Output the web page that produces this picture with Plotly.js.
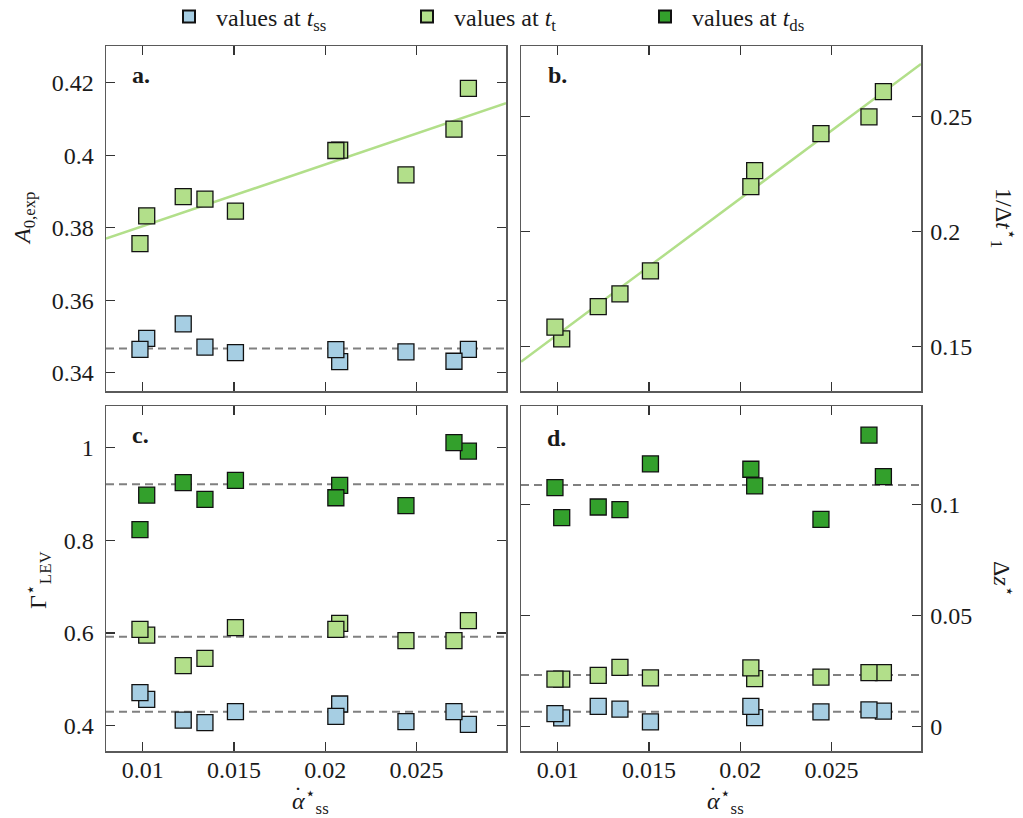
<!DOCTYPE html>
<html>
<head>
<meta charset="utf-8">
<script src="https://cdn.plot.ly/plotly-3.0.1.min.js"></script>
<style>html,body{margin:0;padding:0;background:#ffffff;}</style>
</head>
<body>
<div id="chart" style="width:1023px;height:818px;"></div>
<script>
// Pitch rate of each run (listed from highest to lowest)
const alphaDot = [0.02784, 0.02705, 0.02442, 0.02079, 0.02058, 0.01508, 0.01341, 0.01222, 0.01022, 0.00985];

// a. A_0,exp
const aSS = [0.3465, 0.3432, 0.3458, 0.3431, 0.3464, 0.3456, 0.3471, 0.3535, 0.3495, 0.3465];
const aT  = [0.4184, 0.4072, 0.3946, 0.4014, 0.4013, 0.3846, 0.3879, 0.3886, 0.3833, 0.3756];

// b. 1 / Δt*_1
const invDtT = [0.2609, 0.2499, 0.2426, 0.2265, 0.2195, 0.1828, 0.1728, 0.1673, 0.1532, 0.1583];

// c. Γ*_LEV
const gSS = [0.4029, 0.4302, 0.4086, 0.4468, 0.4201, 0.4302, 0.4065, 0.4122, 0.4568, 0.4712];
const gT  = [0.6266, 0.5835, 0.5835, 0.6209, 0.6079, 0.6115, 0.5453, 0.5295, 0.5957, 0.6079];
const gDS = [0.9928, 1.0108, 0.8748, 0.9187, 0.8920, 0.9295, 0.8885, 0.9245, 0.8978, 0.8230];

// d. Δz*
const zSS = [0.0069, 0.0074, 0.0065, 0.0039, 0.0090, 0.0020, 0.0078, 0.0090, 0.0038, 0.0057];
const zT  = [0.0242, 0.0242, 0.0222, 0.0215, 0.0263, 0.0218, 0.0266, 0.0230, 0.0213, 0.0213];
const zDS = [0.1125, 0.1312, 0.0932, 0.1083, 0.1158, 0.1182, 0.0976, 0.0988, 0.0940, 0.1075];

// Reference levels (dashed lines)
const levelA = [0.3467];
const levelC = [0.4302, 0.5921, 0.9209];
const levelD = [0.0066, 0.0231, 0.1087];

// Ticks
const xTickVals = [0.01, 0.015, 0.02, 0.025];
const xTickText = ['0.01', '0.015', '0.02', '0.025'];
const yTickValsA = [0.34, 0.36, 0.38, 0.4, 0.42];
const yTickTextA = ['0.34', '0.36', '0.38', '0.4', '0.42'];
const yTickValsB = [0.15, 0.2, 0.25];
const yTickTextB = ['0.15', '0.2', '0.25'];
const yTickValsC = [0.4, 0.6, 0.8, 1];
const yTickTextC = ['0.4', '0.6', '0.8', '1'];
const yTickValsD = [0, 0.05, 0.1];
const yTickTextD = ['0', '0.05', '0.1'];

const xRange = [0.00799, 0.0299];

const W = 1023, H = 818;
const px = v => v / W;
const py = v => 1 - v / H;

const C_SS = '#a6cee3', C_T = '#b2df8a', C_DS = '#33a02c';
const FONT = "'Liberation Serif', 'DejaVu Serif', serif";

function linFit(x, y) {
  const n = x.length;
  const mx = x.reduce((s, v) => s + v, 0) / n;
  const my = y.reduce((s, v) => s + v, 0) / n;
  let sxy = 0, sxx = 0;
  for (let i = 0; i < n; i++) { sxy += (x[i] - mx) * (y[i] - my); sxx += (x[i] - mx) ** 2; }
  const k = sxy / sxx;
  return xs => xs.map(v => my + k * (v - mx));
}

function markers(y, color, xa, ya, name, show) {
  return {
    x: alphaDot, y: y, xaxis: xa, yaxis: ya, type: 'scatter', mode: 'markers',
    name: name, showlegend: show, legendgroup: name,
    marker: {symbol: 'square', size: 16, color: color, line: {color: '#111111', width: 1.3}},
    hoverinfo: 'x+y'
  };
}
function level(v, xa, ya) {
  return {x: xRange, y: [v, v], xaxis: xa, yaxis: ya, type: 'scatter', mode: 'lines',
    showlegend: false, hoverinfo: 'skip',
    line: {color: '#808080', width: 2, dash: '8px,5px'}};
}
function fitLine(y, xa, ya) {
  const f = linFit(alphaDot, y);
  return {x: xRange, y: f(xRange), xaxis: xa, yaxis: ya, type: 'scatter', mode: 'lines',
    showlegend: false, hoverinfo: 'skip', line: {color: C_T, width: 2.5}};
}

const nameSS = 'values at <i>t</i><sub>ss</sub>';
const nameT  = 'values at <i>t</i><sub>t</sub>';
const nameDS = 'values at <i>t</i><sub>ds</sub>';

const traces = [];
// a
levelA.forEach(v => traces.push(level(v, 'x', 'y')));
traces.push(fitLine(aT, 'x', 'y'));
traces.push(markers(aSS, C_SS, 'x', 'y', nameSS, true));
traces.push(markers(aT, C_T, 'x', 'y', nameT, true));
// b
traces.push(fitLine(invDtT, 'x2', 'y2'));
traces.push(markers(invDtT, C_T, 'x2', 'y2', nameT, false));
// c
levelC.forEach(v => traces.push(level(v, 'x3', 'y3')));
traces.push(markers(gSS, C_SS, 'x3', 'y3', nameSS, false));
traces.push(markers(gT, C_T, 'x3', 'y3', nameT, false));
traces.push(markers(gDS, C_DS, 'x3', 'y3', nameDS, true));
// d
levelD.forEach(v => traces.push(level(v, 'x4', 'y4')));
traces.push(markers(zSS, C_SS, 'x4', 'y4', nameSS, false));
traces.push(markers(zT, C_T, 'x4', 'y4', nameT, false));
traces.push(markers(zDS, C_DS, 'x4', 'y4', nameDS, false));

const axBase = {
  showgrid: false, zeroline: false, showline: true, linecolor: '#5a5a5a', linewidth: 1.5,
  mirror: 'ticks', ticks: 'inside', ticklen: 9, tickwidth: 1.2, tickcolor: '#333333',
  tickfont: {family: FONT, size: 24, color: '#1a1a1a'}, tickmode: 'array', fixedrange: true
};
const xDomL = [px(106), px(506)], xDomR = [px(521), px(921)];
const yDomT = [py(391), py(46)], yDomB = [py(751), py(406)];

// x-axis title: α with an overdot, star and "ss" subscript
function xTitle(cx) {
  return [
    {text: '<i>α</i><sup>⋆</sup><sub>ss</sub>', x: px(cx + 10), y: py(801)},
    {text: '˙', x: px(cx - 2), y: py(795)}
  ];
}

const layout = {
  width: W, height: H,
  margin: {l: 0, r: 0, t: 0, b: 0, pad: 0, autoexpand: false},
  paper_bgcolor: '#ffffff', plot_bgcolor: '#ffffff',
  font: {family: FONT, size: 24, color: '#1a1a1a'},
  showlegend: true,
  legend: {orientation: 'h', x: px(162), xanchor: 'left', y: py(17), yanchor: 'middle',
    traceorder: 'normal', itemsizing: 'constant', itemwidth: 44, entrywidth: 179, entrywidthmode: 'pixels',
    font: {family: FONT, size: 24, color: '#1a1a1a'}, bgcolor: 'rgba(0,0,0,0)'},
  xaxis:  Object.assign({}, axBase, {domain: xDomL, anchor: 'y',  range: xRange, tickvals: xTickVals, ticktext: xTickText, showticklabels: false}),
  xaxis2: Object.assign({}, axBase, {domain: xDomR, anchor: 'y2', range: xRange, tickvals: xTickVals, ticktext: xTickText, showticklabels: false}),
  xaxis3: Object.assign({}, axBase, {domain: xDomL, anchor: 'y3', range: xRange, tickvals: xTickVals, ticktext: xTickText, ticklabelstandoff: -3}),
  xaxis4: Object.assign({}, axBase, {domain: xDomR, anchor: 'y4', range: xRange, tickvals: xTickVals, ticktext: xTickText, ticklabelstandoff: -3}),
  yaxis:  Object.assign({}, axBase, {domain: yDomT, anchor: 'x',  range: [0.335, 0.4301], tickvals: yTickValsA, ticktext: yTickTextA, ticklabelstandoff: 6}),
  yaxis2: Object.assign({}, axBase, {domain: yDomT, anchor: 'x2', side: 'right', range: [0.1305, 0.2808], tickvals: yTickValsB, ticktext: yTickTextB, ticklabelstandoff: 3}),
  yaxis3: Object.assign({}, axBase, {domain: yDomB, anchor: 'x3', range: [0.3454, 1.09], tickvals: yTickValsC, ticktext: yTickTextC, ticklabelstandoff: 6}),
  yaxis4: Object.assign({}, axBase, {domain: yDomB, anchor: 'x4', side: 'right', range: [-0.0111, 0.1443], tickvals: yTickValsD, ticktext: yTickTextD, ticklabelstandoff: 3}),
  annotations: [
    // panel letters
    {text: '<b>a.</b>', x: px(130), y: py(75), xanchor: 'left'},
    {text: '<b>b.</b>', x: px(546), y: py(75), xanchor: 'left'},
    {text: '<b>c.</b>', x: px(130), y: py(435), xanchor: 'left'},
    {text: '<b>d.</b>', x: px(545), y: py(438), xanchor: 'left'},
    // axis titles
    {text: '<i>A</i><sub>0,exp</sub>', x: px(24), y: py(218), textangle: -90},
    {text: 'Γ<sup>⋆</sup><sub>LEV</sub>', x: px(38), y: py(580), textangle: -90},
    {text: '1/Δ<i>t</i><sup>⋆</sup><sub>1</sub>', x: px(1004), y: py(218), textangle: 90},
    {text: 'Δ<i>z</i><sup>⋆</sup>', x: px(1004), y: py(579), textangle: 90}
  ].concat(xTitle(300), xTitle(715)).map(a => Object.assign({xref: 'paper', yref: 'paper', showarrow: false,
    xanchor: 'center', yanchor: 'middle',
    font: {family: FONT, size: 24, color: '#1a1a1a'}}, a))
};

Plotly.newPlot('chart', traces, layout, {displayModeBar: false, staticPlot: true});
</script>
</body>
</html>
